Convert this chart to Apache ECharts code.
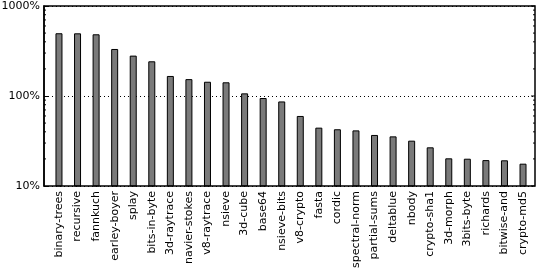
<!DOCTYPE html>
<html><head><meta charset="utf-8">
<script src="https://cdn.jsdelivr.net/npm/echarts@6/dist/echarts.min.js"></script>
<style>html,body{margin:0;padding:0;background:#fff}#c{width:540px;height:270px}</style>
</head><body><div id="c"></div>
<script>
const categories = ["binary-trees","recursive","fannkuch","earley-boyer","splay","bits-in-byte","3d-raytrace","navier-stokes","v8-raytrace","nsieve","3d-cube","base64","nsieve-bits","v8-crypto","fasta","cordic","spectral-norm","partial-sums","deltablue","nbody","crypto-sha1","3d-morph","3bits-byte","richards","bitwise-and","crypto-md5"];
const values = [498,497,485,333,281,243,167,154,144,142,107,95,87,60,44.5,42.7,41.5,36.9,35.6,31.9,26.9,20.3,20.1,19.4,19.3,17.7];
const yTicks = [10,100,1000];
const minorTickValues = [20,30,40,50,60,70,80,90,200,300,400,500,600,700,800,900];

const chart = echarts.init(document.getElementById('c'), null, {renderer:'canvas'});
const font = 'DejaVu Sans';
const yBase = {type:'log',logBase:10,min:10,max:1000};
chart.setOption({
  animation:false,
  grid:[
    {left:44,right:5,top:6,bottom:84,containLabel:false,outerBoundsMode:'none',show:true,borderColor:'#000',borderWidth:1.5,backgroundColor:'transparent',z:3},
    {left:49.7,right:7.7,top:6,bottom:84,containLabel:false,outerBoundsMode:'none',show:false}
  ],
  xAxis:[
    {gridIndex:0,type:'category',data:categories,show:false},
    {gridIndex:1,type:'category',data:categories,
      axisLine:{show:false},axisTick:{show:false},
      axisLabel:{rotate:90,interval:0,color:'#000',fontFamily:font,fontSize:11,margin:5}}
  ],
  yAxis:[
    Object.assign({gridIndex:0,
      axisLine:{show:true,lineStyle:{color:'#000',width:1.5}},
      axisTick:{show:true,inside:true,length:4,lineStyle:{color:'#000'}},
      axisLabel:{formatter:function(v){return yTicks.indexOf(Math.round(v))>=0?String(Math.round(v))+'%':'';},color:'#000',fontFamily:font,fontSize:11,margin:4},
      splitLine:{show:true,lineStyle:{color:'#000',type:[1,3],width:1}}}, yBase),
    Object.assign({gridIndex:1,show:false,splitLine:{show:false}}, yBase)
  ],
  series:[{type:'bar',xAxisIndex:1,yAxisIndex:1,data:values,barWidth:7,
    itemStyle:{color:'#7a7a7a',borderColor:'#000',borderWidth:1},
    silent:true},
   {type:'custom',xAxisIndex:0,yAxisIndex:0,silent:true,z:5,
    data:minorTickValues.map(v=>[v]),
    renderItem:function(params,api){
      const v=api.value(0);
      const p=api.coord([categories[0],v]);
      const cs=params.coordSys;
      const y=p[1];
      return {type:'group',children:[
        {type:'line',shape:{x1:cs.x,y1:y,x2:cs.x+2,y2:y},style:{stroke:'#000',lineWidth:1}},
        {type:'line',shape:{x1:cs.x+cs.width-2,y1:y,x2:cs.x+cs.width,y2:y},style:{stroke:'#000',lineWidth:1}}
      ]};
    }},
   {type:'custom',xAxisIndex:0,yAxisIndex:0,silent:true,z:5,
    data:yTicks.map(v=>[v]),
    renderItem:function(params,api){
      const p=api.coord([categories[0],api.value(0)]);
      const cs=params.coordSys;
      return {type:'line',shape:{x1:cs.x+cs.width-4,y1:p[1],x2:cs.x+cs.width,y2:p[1]},style:{stroke:'#000',lineWidth:1}};
    }}
  ]
});
</script></body></html>
